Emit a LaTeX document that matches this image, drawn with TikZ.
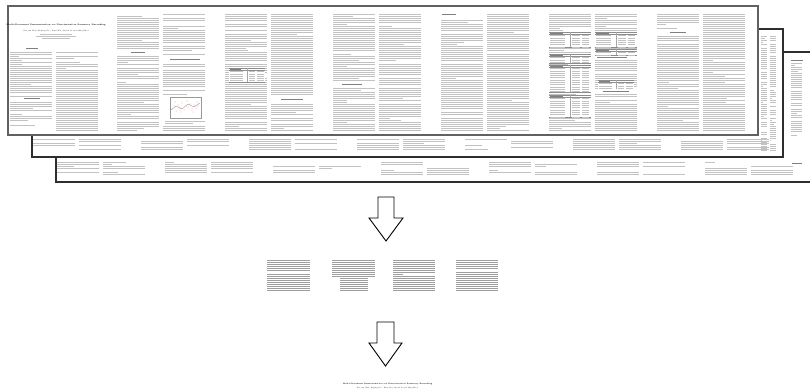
\documentclass[tikz,border=0pt]{standalone}
\usepackage{fontspec}
\begin{document}
\newcommand{\tcolp}[5]{%
  \pgfmathtruncatemacro{\tcN}{((#3)-(#2))/2.0}%
  \foreach \i in {0,...,\tcN}{%
    \pgfmathsetmacro{\tcY}{#2+2.0*\i}%
    \pgfmathsetmacro{\tcR}{rnd}%
    \pgfmathsetmacro{\tcL}{\tcR<#5 ? 0 : (\tcR<(#5+0.12) ? (0.2+4*(\tcR-#5))*#4 : #4)}%
    \ifdim\tcL pt>0pt \fill[txt] (#1,\tcY) rectangle ++(\tcL,1.15);\fi
  }}
\newcommand{\tcol}[4]{\tcolp{#1}{#2}{#3}{#4}{0.04}}
\newcommand{\ttab}[4]{%
  \fill[white] (#1,#2) rectangle ++(#4,#3);
  \draw[black!45, line width=0.35pt] (#1,#2) -- ++(#4,0) (#1,#2+2.6) -- ++(#4,0) (#1,#2+#3) -- ++(#4,0);
  \pgfmathtruncatemacro{\tbN}{(#3-3.5)/2.3}%
  \foreach \j in {0,...,\tbN}{%
    \fill[txt] (#1+1,#2+3.3+2.3*\j) rectangle ++(0.35*#4,0.9);
    \fill[txt] (#1+0.55*#4,#2+3.3+2.3*\j) rectangle ++(0.18*#4,0.9);
    \fill[txt] (#1+0.78*#4,#2+3.3+2.3*\j) rectangle ++(0.18*#4,0.9);
  }
  \fill[head] (#1+1,#2+0.9) rectangle ++(0.3*#4,0.8);
  \draw[black!35, line width=0.3pt] (#1+0.5*#4,#2) -- ++(0,#3);}
\begin{tikzpicture}[x=1pt,y=-1pt,
  frameA/.style={draw=black!62, line width=1.7pt, fill=white},
  frameB/.style={draw=black!82, line width=1.2pt, fill=white},
  txt/.style={fill=black!24},
  head/.style={fill=black!50},
  bigarrow/.style={draw=black, line width=0.9pt, fill=white, line join=miter}]
\useasboundingbox (0,0) rectangle (810,390);
\pgfmathsetseed{11}
% ---------- back frame ----------
\draw[frameB] (56,52) rectangle (830,182);
\foreach \p in {0,...,6}{
  \pgfmathsetmacro{\bx}{57+108*\p}
  \tcolp{\bx}{162}{174}{42}{0.3}
  \tcolp{\bx+46}{162}{174}{42}{0.3}
}
\tcolp{791}{63}{138}{11}{0.1}
\fill[head] (791,60.5) rectangle ++(12,0.6);
\fill[head] (792,163) rectangle ++(10,0.9);
% ---------- middle frame ----------
\draw[frameB] (32,29) rectangle (783,157);
\foreach \p in {0,...,6}{
  \pgfmathsetmacro{\mx}{33+108*\p}
  \tcolp{\mx}{139}{150}{42}{0.25}
  \tcolp{\mx+46}{139}{150}{42}{0.25}
}
\tcolp{761}{36}{150}{6}{0.1}
\tcolp{770}{36}{150}{6}{0.1}
% ---------- front frame ----------
\draw[frameA] (8,6) rectangle (758,135);
% page 0 (title page)
\node[inner sep=0] (ftitle) at (56,25) {\fontsize{2.05}{2.5}\selectfont\bfseries Multi-Document Summarization via Discriminative Summary Reranking};
\node[inner sep=0] (fauth) at (56,31.3) {\fontsize{1.7}{2}\selectfont Xiaojun Wan, Ziqiang Cao, Furu Wei, Sujian Li and Ming Zhou};
\fill[txt] (40,34.3) rectangle ++(32,0.8);
\fill[txt] (36,36.3) rectangle ++(40,0.8);
\fill[txt] (42,38.3) rectangle ++(28,0.8);
\fill[head] (26,48.5) rectangle ++(12,1);
\tcol{10}{52}{96}{42}
\fill[head] (24,98.5) rectangle ++(16,1);
\tcol{10}{102}{121}{42}
\fill[txt] (10,125.5) rectangle ++(25,0.8);
\tcol{56}{52}{130}{42}
% pages 1..6
\foreach \p in {1,...,6}{
  \pgfmathsetmacro{\fx}{9+108*\p}
  \tcol{\fx}{14}{130}{42}
  \tcol{\fx+46}{14}{130}{42}
}
% page 1 details
\fill[white] (117,50) rectangle (160,56);
\fill[head] (131,52.5) rectangle ++(14,1);
\fill[white] (163,56) rectangle (206,63);
\fill[head] (170,59) rectangle ++(30,1);
\fill[white] (163,95) rectangle (207,126);
\draw[black!40, line width=0.35pt] (170,97) rectangle (201,118);
\foreach \dx/\dy in {2/12,4/9,6/14,8/8,10/11,12/6,14/13,16/9,18/10,20/7,22/12,24/8,26/11,28/9,5/5,11/15,17/4,23/15,27/5}{
  \fill[red!45] (170+\dx,97+\dy) circle (0.5);
}
\draw[black!45, line width=0.3pt] (171,110) -- (176,106) -- (182,109) -- (188,104) -- (194,107) -- (200,103);
\fill[txt] (165,121) rectangle ++(40,0.9);
\fill[txt] (165,123.3) rectangle ++(28,0.9);
% page 2 details
\ttab{229}{68}{14}{36}
\fill[white] (271,96) rectangle (314,104);
\fill[head] (281,99.5) rectangle ++(22,1);
% page 3 details
\fill[white] (333,82) rectangle (376,88);
\fill[head] (342,84.5) rectangle ++(20,1);
% page 4 details
\fill[white] (441,10) rectangle (484,20);
\fill[head] (442,14) rectangle ++(14,1);
% page 5 tables
\ttab{549}{32}{15}{42}
\ttab{549}{54}{9}{42}
\ttab{549}{65}{27}{42}
\ttab{549}{95}{22}{42}
\ttab{595}{32}{15}{42}
\ttab{595}{49}{6}{42}
\fill[white] (595,56) rectangle (637,60);
\fill[head] (597,57.5) rectangle ++(30,1);
\ttab{598}{80}{9}{36}
\fill[white] (595,89) rectangle (637,94);
\fill[head] (603,91) rectangle ++(26,1);
% page 6 heading
\fill[white] (657,30) rectangle (699,36);
\fill[head] (670,32.5) rectangle ++(16,1);
% ---------- arrows ----------
\draw[bigarrow] (378,197) -- (394,197) -- (394,218) -- (403,218) -- (386,241) -- (369,218) -- (378,218) -- cycle;
\draw[bigarrow] (377,322) -- (394,322) -- (394,343) -- (402,343) -- (385.5,366) -- (369,343) -- (377,343) -- cycle;
% ---------- selected excerpts ----------
\begin{scope}[txt/.style={fill=black!38}]
\tcolp{267}{260}{290}{43}{0.03}
\tcolp{332}{260}{276}{43}{0.03}
\tcolp{340}{278}{290}{28}{0.03}
\tcolp{393}{260}{291}{42}{0.03}
\tcolp{456}{260}{291}{42}{0.05}
\end{scope}
% ---------- summary ----------
\node[inner sep=0] (stitle) at (387.5,383.6) {\fontsize{1.85}{2.2}\selectfont\bfseries Multi-Document Summarization via Discriminative Summary Reranking};
\node[inner sep=0] (sauth) at (387.5,388) {\fontsize{1.6}{2}\selectfont Xiaojun Wan, Ziqiang Cao, Furu Wei, Sujian Li and Ming Zhou};
\end{tikzpicture}
\end{document}
